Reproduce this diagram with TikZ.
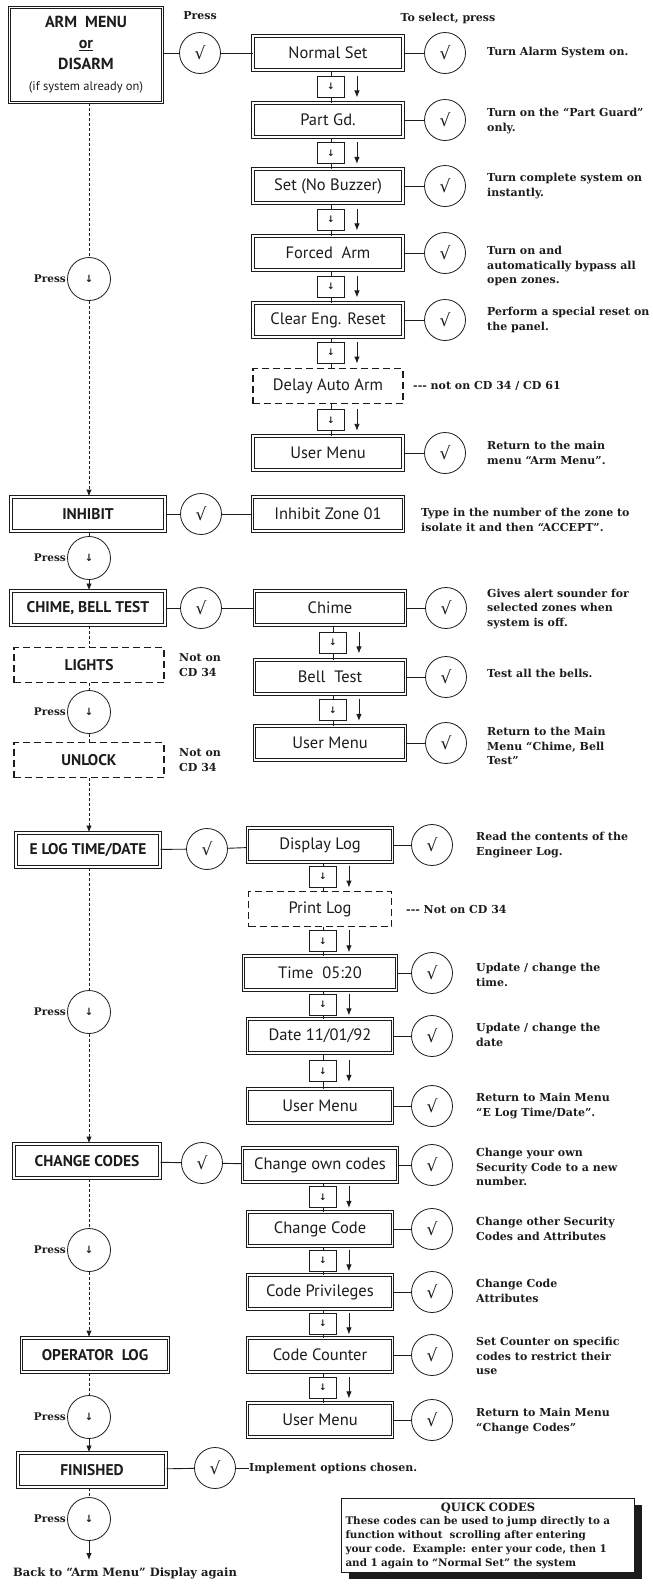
\documentclass[tikz,border=0pt]{standalone}
\usepackage{fontspec}
\setmainfont{DejaVu Serif}
\setsansfont{PT Sans}
\newfontfamily\symbolfont{DejaVu Sans}
\usetikzlibrary{arrows.meta,positioning,calc,shadows}
\definecolor{ink}{HTML}{1C1C1C}
\tikzset{
  menubox/.style={draw=ink, double=white, double distance=1.4pt, line width=1pt, minimum height=34pt, inner sep=2pt, font=\sffamily\fontsize{16.5}{18}\selectfont, text=ink},
  dashbox/.style={draw=ink, line width=1.5pt, dash pattern=on 7pt off 4pt, minimum height=35pt, inner sep=2pt, font=\sffamily\fontsize{16.5}{18}\selectfont, text=ink},
  okcircle/.style={circle, draw=ink, line width=0.8pt, minimum size=41pt, inner sep=0pt, font=\symbolfont\fontsize{17}{17}\selectfont, text=ink},
  presscircle/.style={okcircle, minimum size=43pt, font=\symbolfont\bfseries\fontsize{10}{10}\selectfont},
  stepbox/.style={draw=ink, line width=0.9pt, minimum width=27pt, minimum height=21pt, inner sep=0pt, font=\symbolfont\bfseries\fontsize{9}{9}\selectfont, text=ink},
  desc/.style={anchor=west, align=left, inner sep=0pt, font=\bfseries\fontsize{11}{14.5}\selectfont, text=ink},
  caption/.style={inner sep=0pt, font=\bfseries\fontsize{11}{13}\selectfont, text=ink},
  presslabel/.style={inner sep=1pt, font=\bfseries\fontsize{10.5}{12}\selectfont, text=ink},
  link/.style={draw=ink, line width=0.9pt},
  dotlink/.style={draw=ink, line width=1pt, dash pattern=on 3pt off 2pt},
  tip/.style={-{Latex[length=7pt,width=5.5pt]}},
}
\begin{document}
\begin{tikzpicture}[x=1pt, y=-1pt]
  \useasboundingbox (0,0) rectangle (653,1585);

  % arm menu and its options
  \node[menubox, minimum width=153pt, minimum height=95pt, align=center, font=\sffamily\bfseries\fontsize{16}{21}\selectfont] (arm) at (86,55) {ARM\ \ MENU\\\underline{or}\\DISARM\\{\mdseries\fontsize{12.5}{14}\selectfont (if system already on)}};
  \node[caption] (topress) at (200,16) {Press};
  \node[caption] (toselect) at (448,18) {To select, press};
  \node[okcircle] (c0) at (200,53) {√};

  \node[menubox, minimum width=150pt] (ns) at (328,53) {Normal Set};
  \node[menubox, minimum width=150pt] (pg) at (328,120) {Part Gd.};
  \node[menubox, minimum width=150pt] (sn) at (328,186) {Set (No Buzzer)};
  \node[menubox, minimum width=150pt] (fa) at (328,253) {Forced\ \ Arm};
  \node[menubox, minimum width=150pt] (ce) at (328,320) {Clear Eng. Reset};
  \node[dashbox, minimum width=150pt] (da) at (328,386) {Delay Auto Arm};
  \node[menubox, minimum width=150pt] (um1) at (328,453) {User Menu};

  \node[okcircle] (ok1) at (445,53) {√};
  \node[okcircle] (ok2) at (445,120) {√};
  \node[okcircle] (ok3) at (445,186) {√};
  \node[okcircle] (ok4) at (445,253) {√};
  \node[okcircle] (ok5) at (445,320) {√};
  \node[okcircle] (ok6) at (445,453) {√};

  \node[desc] (d1) at (487,53) {Turn Alarm System on.};
  \node[desc] (d2) at (487,121) {Turn on the ``Part Guard''\\only.};
  \node[desc] (d3) at (487,186) {Turn complete system on\\instantly.};
  \node[desc] (d4) at (487,266) {Turn on and\\automatically bypass all\\open zones.};
  \node[desc] (d5) at (487,320) {Perform a special reset on\\the panel.};
  \node[desc] (d6) at (487,453) {Return to the main\\menu ``Arm Menu''.};
  \node[desc] (n1) at (413,386) {-{}-{}- not on CD 34 / CD 61};

  % inhibit
  \node[menubox, minimum width=154pt, font=\sffamily\bfseries\fontsize{15.5}{18}\selectfont] (ih) at (88,514) {INHIBIT};
  \node[okcircle] (c1) at (201,514) {√};
  \node[menubox, minimum width=151pt] (iz) at (328,514) {Inhibit Zone 01};
  \node[desc] (d7) at (421,520) {Type in the number of the zone to\\isolate it and then ``ACCEPT''.};

  % chime, bell test
  \node[menubox, minimum width=154pt, font=\sffamily\bfseries\fontsize{15.5}{18}\selectfont] (cb) at (88,608) {CHIME, BELL TEST};
  \node[okcircle] (c2) at (201,608) {√};
  \node[menubox, minimum width=151pt] (ch) at (330,608) {Chime};
  \node[menubox, minimum width=151pt] (bt) at (330,677) {Bell\ \ Test};
  \node[menubox, minimum width=151pt] (um2) at (330,743) {User Menu};
  \node[okcircle] (ok7) at (446,608) {√};
  \node[okcircle] (ok8) at (446,677) {√};
  \node[okcircle] (ok9) at (446,743) {√};
  \node[desc] (d8) at (487,609) {Gives alert sounder for\\selected zones when\\system is off.};
  \node[desc] (d9) at (487,673) {Test all the bells.};
  \node[desc] (d10) at (487,746) {Return to the Main\\Menu ``Chime, Bell\\Test''};

  \node[dashbox, minimum width=150pt, font=\sffamily\bfseries\fontsize{15.5}{18}\selectfont] (li) at (89,665) {LIGHTS};
  \node[desc] (n2) at (179,665) {Not on\\CD 34};
  \node[dashbox, minimum width=150pt, font=\sffamily\bfseries\fontsize{15.5}{18}\selectfont] (ul) at (89,760) {UNLOCK};
  \node[desc] (n3) at (179,760) {Not on\\CD 34};

  % engineer log
  \node[menubox, minimum width=144pt, font=\sffamily\bfseries\fontsize{15.5}{18}\selectfont] (el) at (88,850) {E LOG TIME/DATE};
  \node[okcircle] (c3) at (207,849) {√};
  \node[menubox, minimum width=145pt] (dl) at (320,845) {Display Log};
  \node[dashbox, minimum width=143pt] (pl) at (320,909) {Print Log};
  \node[menubox, minimum width=153pt] (tm) at (320,973) {Time\ \ 05:20};
  \node[menubox, minimum width=145pt] (dt) at (320,1036) {Date 11/01/92};
  \node[menubox, minimum width=145pt] (um3) at (320,1106) {User Menu};
  \node[okcircle] (ok10) at (432,845) {√};
  \node[okcircle] (ok11) at (432,973) {√};
  \node[okcircle] (ok12) at (432,1036) {√};
  \node[okcircle] (ok13) at (432,1106) {√};
  \node[desc] (d11) at (476,845) {Read the contents of the\\Engineer Log.};
  \node[desc] (n4) at (406,909) {-{}-{}- Not on CD 34};
  \node[desc] (d12) at (476,975) {Update / change the\\time.};
  \node[desc] (d13) at (476,1035) {Update / change the\\date};
  \node[desc] (d14) at (476,1106) {Return to Main Menu\\``E Log Time/Date''.};

  % codes
  \node[menubox, minimum width=146pt, font=\sffamily\bfseries\fontsize{15.5}{18}\selectfont] (cc) at (87,1161) {CHANGE CODES};
  \node[okcircle] (c4) at (202,1163) {√};
  \node[menubox, minimum width=155pt] (co) at (320,1165) {Change own codes};
  \node[menubox, minimum width=145pt] (cg) at (320,1229) {Change Code};
  \node[menubox, minimum width=145pt] (cp) at (320,1292) {Code Privileges};
  \node[menubox, minimum width=145pt] (cn) at (320,1355) {Code Counter};
  \node[menubox, minimum width=145pt] (um4) at (320,1420) {User Menu};
  \node[okcircle] (ok14) at (432,1165) {√};
  \node[okcircle] (ok15) at (432,1229) {√};
  \node[okcircle] (ok16) at (432,1292) {√};
  \node[okcircle] (ok17) at (432,1355) {√};
  \node[okcircle] (ok18) at (432,1420) {√};
  \node[desc] (d15) at (476,1167) {Change your own\\Security Code to a new\\number.};
  \node[desc] (d16) at (476,1229) {Change other Security\\Codes and Attributes};
  \node[desc] (d17) at (476,1291) {Change Code\\Attributes};
  \node[desc] (d18) at (476,1356) {Set Counter on specific\\codes to restrict their\\use};
  \node[desc] (d19) at (476,1421) {Return to Main Menu\\``Change Codes''};

  \node[menubox, minimum width=147pt, font=\sffamily\bfseries\fontsize{15.5}{18}\selectfont] (ol) at (95,1355) {OPERATOR\ \ LOG};
  \node[menubox, minimum width=148pt, font=\sffamily\bfseries\fontsize{15.5}{18}\selectfont] (fi) at (92,1470) {FINISHED};
  \node[okcircle] (c5) at (215,1468) {√};
  \node[desc] (d20) at (249,1468) {Implement options chosen.};

  % press circles down the left
  \node[presscircle] (p1) at (89,279) {↓};
  \node[presscircle] (p2) at (89,558) {↓};
  \node[presscircle] (p3) at (89,712) {↓};
  \node[presscircle] (p4) at (89,1012) {↓};
  \node[presscircle] (p5) at (89,1250) {↓};
  \node[presscircle] (p6) at (89,1417) {↓};
  \node[presscircle] (p7) at (89,1519) {↓};
  \foreach \p in {1,...,7}
    \node[presslabel, left=0pt of p\p] (lab\p) {Press};
  \coordinate (back) at (89,1560);
  \node[caption, font=\bfseries\fontsize{11.5}{13}\selectfont] (backtext) at (125,1573) {Back to ``Arm Menu'' Display again};

  % quick codes
  \node[draw=ink, line width=1pt, fill=white, drop shadow={shadow xshift=7pt, shadow yshift=-6pt, fill=ink, opacity=1}, anchor=north west, text width=285pt, inner sep=4pt, align=left, font=\bfseries\fontsize{10.4}{13.8}\selectfont, text=ink] (qc) at (341,1498) {\makebox[\linewidth]{\bfseries\fontsize{11.5}{13.8}\selectfont QUICK CODES}\\These codes can be used to jump directly to a\\function without\ \ scrolling after entering\\your code.\ \ Example: enter your code, then 1\\and 1 again to ``Normal Set'' the system};

  % horizontal links
  \draw[link] (arm.east |- c0) -- (c0) -- (ns);
  \foreach \a/\b in {ns/ok1, pg/ok2, sn/ok3, fa/ok4, ce/ok5, um1/ok6, ih/c1, c1/iz, cb/c2, c2/ch, ch/ok7, bt/ok8, um2/ok9, el/c3, c3/dl, dl/ok10, tm/ok11, dt/ok12, um3/ok13, cc/c4, c4/co, co/ok14, cg/ok15, cp/ok16, cn/ok17, um4/ok18, fi/c5}
    \draw[link] (\a) -- (\b);
  \draw[link] (c5) -- (d20);

  % step boxes
  \foreach \a/\b in {ns/pg, pg/sn, sn/fa, fa/ce, ce/da, da/um1, ch/bt, bt/um2, dl/pl, pl/tm, tm/dt, dt/um3, co/cg, cg/cp, cp/cn, cn/um4} {
    \node[stepbox] (\a-\b) at ($(\a.south)!0.5!(\b.north)+(3,0)$) {↓};
    \draw[link] (\a-\b.north |- \a.south) -- (\a-\b.north);
    \draw[link] (\a-\b.south) -- (\a-\b.south |- \b.north);
    \draw[link, tip] ($(\a-\b.north east)+(12,0)$) -- ($(\a-\b.south east)+(12,0)$);
  }

  % left column
  \draw[dotlink] (p1 |- arm.south) -- (p1);
  \draw[dotlink, tip] (p1) -- (p1 |- ih.north);
  \draw[link] (p2 |- ih.south) -- (p2);
  \draw[link, tip] (p2) -- (p2 |- cb.north);
  \draw[dotlink] (p3 |- cb.south) -- (p3 |- li.north);
  \draw[dotlink] (p3 |- li.south) -- (p3);
  \draw[dotlink] (p3) -- (p3 |- ul.north);
  \draw[dotlink, tip] (ul.south) -- (ul.south |- el.north);
  \draw[dotlink] (p4 |- el.south) -- (p4);
  \draw[dotlink, tip] (p4) -- (p4 |- cc.north);
  \draw[dotlink] (p5 |- cc.south) -- (p5);
  \draw[dotlink, tip] (p5) -- (p5 |- ol.north);
  \draw[dotlink] (p6 |- ol.south) -- (p6);
  \draw[link, tip] (p6) -- (p6 |- fi.north);
  \draw[dotlink] (p7 |- fi.south) -- (p7);
  \draw[link, tip] (p7) -- (back);
\end{tikzpicture}
\end{document}
